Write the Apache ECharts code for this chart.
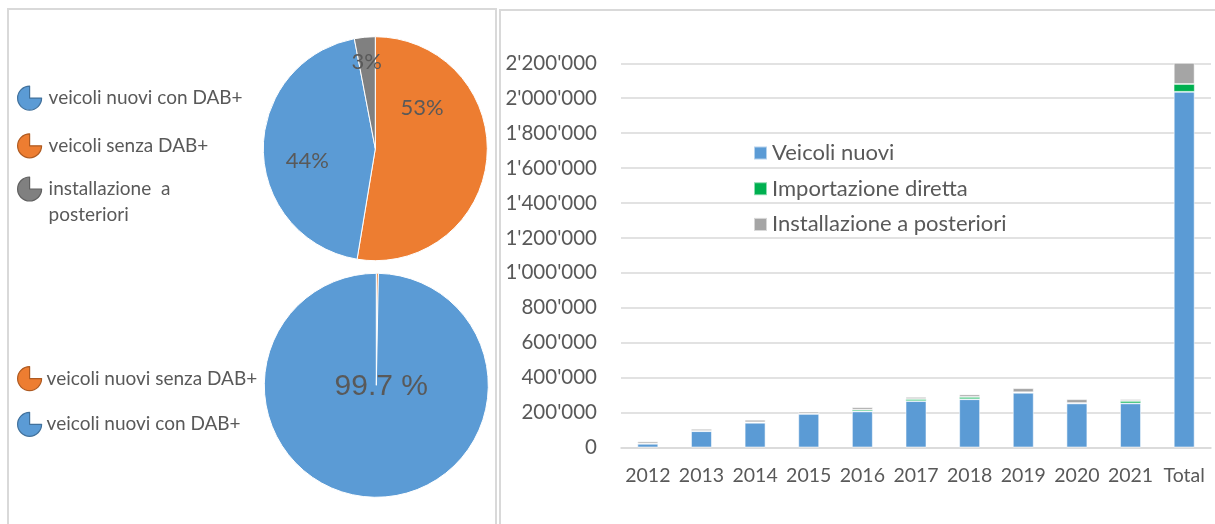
<!DOCTYPE html>
<html>
<head>
<meta charset="utf-8">
<script src="https://cdn.jsdelivr.net/npm/echarts@6/dist/echarts.min.js"></script>
<style>
  html, body { margin: 0; padding: 0; background: #ffffff; }
  #chart { width: 1215px; height: 524px; }
</style>
</head>
<body>
<div id="chart"></div>
<script>
// ---- Data ----
const years = ['2012', '2013', '2014', '2015', '2016', '2017', '2018', '2019', '2020', '2021', 'Total'];
const veicoliNuovi = [22000, 94000, 142000, 193000, 207000, 266000, 277000, 314000, 253000, 253000, 2037000];
const importazioneDiretta = [0, 0, 2000, 1000, 9000, 11000, 12000, 2000, 1000, 13000, 44000];
const installazionePosteriori = [13000, 13000, 15000, 12000, 15000, 13000, 15000, 24000, 23000, 11000, 124000];
const barSeriesNames = ['Veicoli nuovi', 'Importazione diretta', 'Installazione a posteriori'];
const yTicks = [0, 200000, 400000, 600000, 800000, 1000000, 1200000, 1400000, 1600000, 1800000, 2000000, 2200000];

const pie1Names = ['veicoli senza DAB+', 'veicoli nuovi con DAB+', 'installazione a posteriori'];
const pie1Values = [52.6, 44.4, 3.0];
const pie2Names = ['veicoli nuovi senza DAB+', 'veicoli nuovi con DAB+'];
const pie2Values = [0.3, 99.7];

// ---- Styles ----
const BLUE = '#5B9BD5', ORANGE = '#ED7D31', GREY = '#808080', BARGREY = '#A5A5A5', GREEN = '#00B050';
const TXT = '#595959';
const FONT = 'Lato, "Open Sans", sans-serif';
const pie1Colors = [ORANGE, BLUE, GREY];
const pie2Colors = [ORANGE, BLUE];
const iconPath = 'path://M50,50 L50,0 A50,50 0 1,0 100,50 Z';
const iconBorder = { 'veicoli senza DAB+': '#AE5A21', 'veicoli nuovi senza DAB+': '#AE5A21',
  'veicoli nuovi con DAB+': '#41719C', 'installazione a posteriori': '#606060' };
function legendItem(name, extra) {
  return Object.assign({ name: name, icon: iconPath,
    itemStyle: { borderColor: iconBorder[name], borderWidth: 1.2 } }, extra || {});
}
const pie1LabelShift = [[-12, -46], [-9, 11], [-3, -28]];

const chart = echarts.init(document.getElementById('chart'), null, { renderer: 'canvas' });
const fmtNum = v => String(v).replace(/\B(?=(\d{3})+(?!\d))/g, "'");

const option = {
  backgroundColor: '#ffffff',
  animation: false,
  graphic: [
    { type: 'rect', shape: { x: 8, y: 9, width: 488, height: 540 },
      style: { fill: 'none', stroke: '#D9D9D9', lineWidth: 2 }, z: -1 },
    { type: 'rect', shape: { x: 500, y: 10, width: 800, height: 600 },
      style: { fill: 'none', stroke: '#D9D9D9', lineWidth: 2 }, z: -1 }
  ],
  legend: [
    { // pie 1 legend (first two items)
      orient: 'vertical', left: 17, top: 85.5, padding: 0,
      itemWidth: 24, itemHeight: 24, itemGap: 22.5,
      selectedMode: false,
      textStyle: { fontFamily: FONT, fontSize: 19, color: TXT, lineHeight: 22, padding: [0, 0, 0, 2] },
      data: [legendItem('veicoli nuovi con DAB+'), legendItem('veicoli senza DAB+')]
    },
    { // pie 1 legend (two-line item; blank first line keeps the icon on the first text line)
      orient: 'vertical', left: 17, top: 150, padding: 0,
      itemWidth: 24, itemHeight: 24, selectedMode: false,
      formatter: () => ' \ninstallazione  a\nposteriori',
      textStyle: { fontFamily: FONT, fontSize: 19, color: TXT, lineHeight: 26, padding: [0, 0, 0, 2] },
      data: [legendItem('installazione a posteriori')]
    },
    { // pie 2 legend
      orient: 'vertical', left: 17, top: 366, padding: 0,
      itemWidth: 24, itemHeight: 24, itemGap: 20.5, selectedMode: false,
      textStyle: { fontFamily: FONT, fontSize: 19, color: TXT, lineHeight: 22 },
      data: [legendItem('veicoli nuovi senza DAB+'), legendItem('veicoli nuovi con DAB+')]
    },
    { // bar legend
      orient: 'vertical', left: 753, top: 142, padding: 0,
      itemWidth: 13, itemHeight: 13, itemGap: 13.7, icon: 'rect', selectedMode: false,
      textStyle: { fontFamily: FONT, fontSize: 22, color: TXT, lineHeight: 22 },
      data: barSeriesNames
    }
  ],
  grid: { left: 621, right: 4, top: 63.3, bottom: 524 - 447.5, containLabel: false },
  xAxis: {
    type: 'category', data: years,
    axisLine: { lineStyle: { color: '#D9D9D9', width: 1.6 } },
    axisTick: { show: false },
    axisLabel: { fontFamily: FONT, fontSize: 19.5, color: TXT, margin: 18, interval: 0 }
  },
  yAxis: {
    type: 'value', min: yTicks[0], max: yTicks[yTicks.length - 1], interval: yTicks[1] - yTicks[0],
    axisLine: { show: false }, axisTick: { show: false },
    splitLine: { lineStyle: { color: '#D9D9D9', width: 1.6 } },
    axisLabel: { fontFamily: FONT, fontSize: 20.5, color: TXT, margin: 24, formatter: fmtNum }
  },
  series: [
    { name: barSeriesNames[0], type: 'bar', stack: 'tot', data: veicoliNuovi, barWidth: 21,
      itemStyle: { color: BLUE, borderColor: 'rgba(255,255,255,0.55)', borderWidth: 1 } },
    { name: barSeriesNames[1], type: 'bar', stack: 'tot', data: importazioneDiretta, barWidth: 21,
      itemStyle: { color: GREEN, borderColor: 'rgba(255,255,255,0.55)', borderWidth: 0.8 } },
    { name: barSeriesNames[2], type: 'bar', stack: 'tot', data: installazionePosteriori, barWidth: 21,
      itemStyle: { color: BARGREY, borderColor: 'rgba(255,255,255,0.55)', borderWidth: 1 } },
    { name: 'pie1', type: 'pie', center: [375.3, 148.7], radius: [0, 112],
      startAngle: 90, clockwise: true, percentPrecision: 0,
      avoidLabelOverlap: false, selectedMode: false,
      itemStyle: { borderColor: '#ffffff', borderWidth: 1 },
      label: { show: true, position: 'inside', formatter: '{d}%',
        fontFamily: FONT, fontSize: 22, color: TXT },
      labelLine: { show: false },
      labelLayout: p => ({ dx: pie1LabelShift[p.dataIndex][0], dy: pie1LabelShift[p.dataIndex][1] }),
      data: pie1Names.map((n, i) => ({ name: n, value: pie1Values[i], itemStyle: { color: pie1Colors[i] } }))
    },
    { name: 'pie2', type: 'pie', center: [376.3, 385.3], radius: [0, 112],
      startAngle: 90, clockwise: true, percentPrecision: 1,
      avoidLabelOverlap: false, selectedMode: false,
      itemStyle: { borderColor: '#ffffff', borderWidth: 1 },
      label: { show: true, position: 'center', formatter: '{d} %',
        fontFamily: '"Liberation Sans", Arial, sans-serif', fontSize: 30, color: TXT },
      labelLine: { show: false },
      labelLayout: p => ({ dx: 5, dy: 1 }),
      data: pie2Names.map((n, i) => ({ name: n, value: pie2Values[i],
        itemStyle: { color: pie2Colors[i] }, label: { show: i === 1 } }))
    }
  ]
};
chart.setOption(option);
</script>
</body>
</html>
